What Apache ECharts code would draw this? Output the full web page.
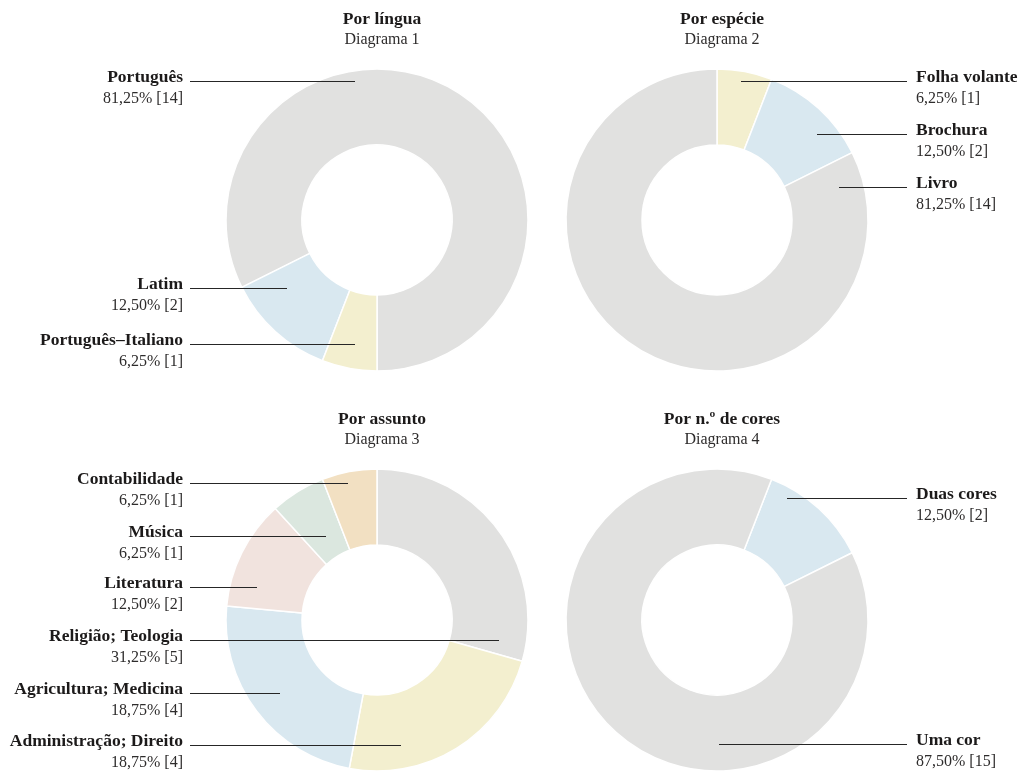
<!DOCTYPE html>
<html>
<head>
<meta charset="utf-8">
<title>Diagramas</title>
<script src="https://cdn.jsdelivr.net/npm/echarts@6/dist/echarts.min.js"></script>
<style>
  html, body { margin: 0; padding: 0; background: #ffffff; }
  #chart { width: 1018px; height: 778px; }
</style>
</head>
<body>
<div id="chart"></div>
<script>
// Diagrama 1 — por língua
const langNames = ['Português', 'Latim', 'Português–Italiano'];
const langCounts = [14, 2, 1];
const langPct = ['81,25%', '12,50%', '6,25%'];

// Diagrama 2 — por espécie
const kindNames = ['Folha volante', 'Brochura', 'Livro'];
const kindCounts = [1, 2, 14];
const kindPct = ['6,25%', '12,50%', '81,25%'];

// Diagrama 3 — por assunto
const subjNames = ['Religião; Teologia', 'Administração; Direito', 'Agricultura; Medicina', 'Literatura', 'Música', 'Contabilidade'];
const subjCounts = [5, 4, 4, 2, 1, 1];
const subjPct = ['31,25%', '18,75%', '18,75%', '12,50%', '6,25%', '6,25%'];

// Diagrama 4 — por n.º de cores
const colorNames = ['Duas cores', 'Uma cor'];
const colorCounts = [2, 15];
const colorPct = ['12,50%', '87,50%'];

// Titles
const titles = ['Por língua', 'Por espécie', 'Por assunto', 'Por n.º de cores'];
const subtitles = ['Diagrama 1', 'Diagrama 2', 'Diagrama 3', 'Diagrama 4'];

// Palette
const GREY = '#e1e1e0', YELLOW = '#f3efcf', BLUE = '#d9e8f0', PINK = '#f1e3de', GREEN = '#dbe7df', ORANGE = '#f2e0c2';
const FONT = 'Liberation Serif';

// Label layout per diagram: leader-line y and the x where it ends inside the ring
const layouts = [
  { side: 'left',  lineY: [81, 288, 344], endX: [355, 287, 355] },
  { side: 'right', lineY: [81, 134, 187], endX: [741, 817, 839] },
  { side: 'left',  lineY: [640, 745, 693, 587, 536, 483], endX: [499, 401, 280, 257, 326, 348] },
  { side: 'right', lineY: [498, 744], endX: [787, 719] }
];
const LEFT_TEXT_X = 183, LEFT_LINE_X = 190;
const RIGHT_TEXT_X = 916, RIGHT_LINE_X = 907;

const pies = [
  { names: langNames,  counts: langCounts,  pct: langPct,  colors: [GREY, BLUE, YELLOW], center: [377, 220], startAngle: -90, clockwise: false },
  { names: kindNames,  counts: kindCounts,  pct: kindPct,  colors: [YELLOW, BLUE, GREY], center: [717, 220], startAngle: 90, clockwise: true },
  { names: subjNames,  counts: subjCounts,  pct: subjPct,  colors: [GREY, YELLOW, BLUE, PINK, GREEN, ORANGE], center: [377, 620], startAngle: 90, clockwise: true },
  { names: colorNames, counts: colorCounts, pct: colorPct, colors: [BLUE, GREY], center: [717, 620], startAngle: 68.8, clockwise: true }
];

function baseOf(p) {
  return {
    type: 'pie',
    center: p.center,
    radius: [75, 151],
    startAngle: p.startAngle,
    clockwise: p.clockwise,
    avoidLabelOverlap: false,
    minShowLabelAngle: 0,
    silent: true,
    emphasis: { disabled: true }
  };
}

// Coloured ring
function ringSeries(p) {
  return Object.assign(baseOf(p), {
    z: 2,
    itemStyle: { borderColor: '#ffffff', borderWidth: 1.5 },
    data: p.names.map((n, i) => ({ name: n, value: p.counts[i], itemStyle: { color: p.colors[i] } })),
    label: { show: false },
    labelLine: { show: false }
  });
}

// Same ring, transparent, carrying the labels and leader lines above the slices
function labelSeries(p, k) {
  const lay = layouts[k];
  const left = lay.side === 'left';
  return Object.assign(baseOf(p), {
    z: 5,
    itemStyle: { color: 'rgba(0,0,0,0)', borderWidth: 0 },
    data: p.names.map((n, i) => ({ name: n, value: p.counts[i] })),
    label: {
      show: true,
      position: 'outside',
      formatter: (d) => '{n|' + d.name + '}\n{v|' + p.pct[d.dataIndex] + ' [' + d.value + ']}',
      rich: {
        n: { fontFamily: FONT, fontSize: 17.5, fontWeight: 'bold', color: '#1c1a1a', lineHeight: 21, align: left ? 'right' : 'left' },
        v: { fontFamily: FONT, fontSize: 16, color: '#2e2c2c', lineHeight: 21, align: left ? 'right' : 'left' }
      }
    },
    labelLine: {
      show: true,
      length: 10,
      length2: 10,
      smooth: false,
      lineStyle: { color: '#262626', width: 1 }
    },
    labelLayout: (params) => {
      const i = params.dataIndex;
      const y = lay.lineY[i] + 0.5;
      const ex = lay.endX[i];
      const sx = left ? LEFT_LINE_X : RIGHT_LINE_X;
      return {
        x: left ? LEFT_TEXT_X : RIGHT_TEXT_X,
        y: lay.lineY[i] - 14,
        align: left ? 'right' : 'left',
        verticalAlign: 'top',
        labelLinePoints: [[ex, y], [ex, y], [sx, y]]
      };
    }
  });
}

const chart = echarts.init(document.getElementById('chart'), null, { renderer: 'canvas' });
chart.setOption({
  animation: false,
  backgroundColor: '#ffffff',
  title: titles.map((t, k) => ({
    text: t,
    subtext: subtitles[k],
    left: pies[k].center[0],
    top: k < 2 ? 5 : 405,
    textAlign: 'center',
    itemGap: 4,
    textStyle: { fontFamily: FONT, fontSize: 17.5, fontWeight: 'bold', color: '#1c1a1a' },
    subtextStyle: { fontFamily: FONT, fontSize: 16, color: '#2e2c2c' }
  })),
  series: pies.map(ringSeries).concat(pies.map(labelSeries))
});
</script>
</body>
</html>
